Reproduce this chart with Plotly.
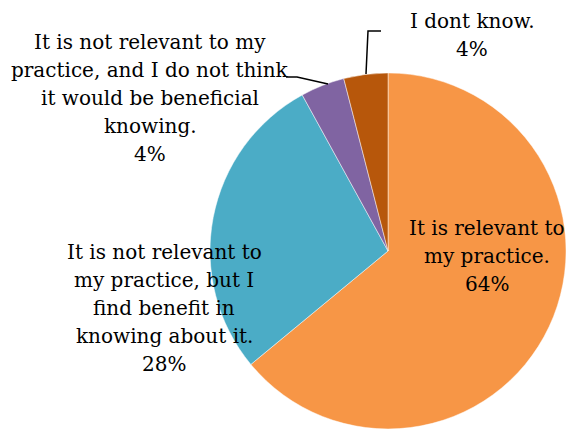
import plotly.graph_objects as go

# Survey responses and their shares (%)
categories = [
    "It is relevant to<br>my practice.",
    "It is not relevant to<br>my practice, but I<br>find benefit in<br>knowing about it.",
    "It is not relevant to my<br>practice, and I do not think<br>it would be beneficial<br>knowing.",
    "I dont know.",
]
shares = [64, 28, 4, 4]
colors = ["#F79646", "#4BACC6", "#8064A2", "#B7570B"]

W, H = 574, 429
FONT = "DejaVu Serif"
LINE_GAP = 27.9  # px between label lines

# Label block placement in pixels: (centre x, centre y of first line)
label_pos = [
    (487, 228),
    (164, 252),
    (150, 42),
    (472, 21),
]

fig = go.Figure(
    go.Pie(
        labels=[c.replace("<br>", " ") for c in categories],
        values=shares,
        sort=False,
        direction="clockwise",
        rotation=0,
        marker=dict(colors=colors, line=dict(width=0.8, color="rgba(255,255,255,0.6)")),
        textinfo="none",
        hoverinfo="label+percent",
        domain=dict(x=[0.3659, 0.9861], y=[0.0, 0.83]),
        showlegend=False,
    )
)

# Each label line is placed separately to control line spacing
for cat, val, (cx, cy) in zip(categories, shares, label_pos):
    lines = cat.split("<br>") + [f"{val}%"]
    for i, txt in enumerate(lines):
        fig.add_annotation(
            x=cx / W, y=1 - (cy + i * LINE_GAP) / H,
            xref="paper", yref="paper",
            text=txt, showarrow=False, align="center",
            xanchor="center", yanchor="middle",
            font=dict(family=FONT, size=20, color="#000000"),
        )

# Leader lines for the two small slices
line_style = dict(color="#000000", width=1.5)


def px_path(points):
    return "M " + " L ".join(f"{x / W},{1 - y / H}" for x, y in points)


# "I dont know."
fig.add_shape(type="path", xref="paper", yref="paper",
              path=px_path([(366, 74), (368, 31), (381, 31)]), line=line_style)
# "not relevant ... not beneficial"
fig.add_shape(type="path", xref="paper", yref="paper",
              path=px_path([(286, 77), (297, 77), (328, 84)]), line=line_style)

fig.update_layout(
    width=W, height=H,
    margin=dict(l=0, r=0, t=0, b=0),
    paper_bgcolor="#FFFFFF",
    plot_bgcolor="#FFFFFF",
)

fig.write_html("out.html")
